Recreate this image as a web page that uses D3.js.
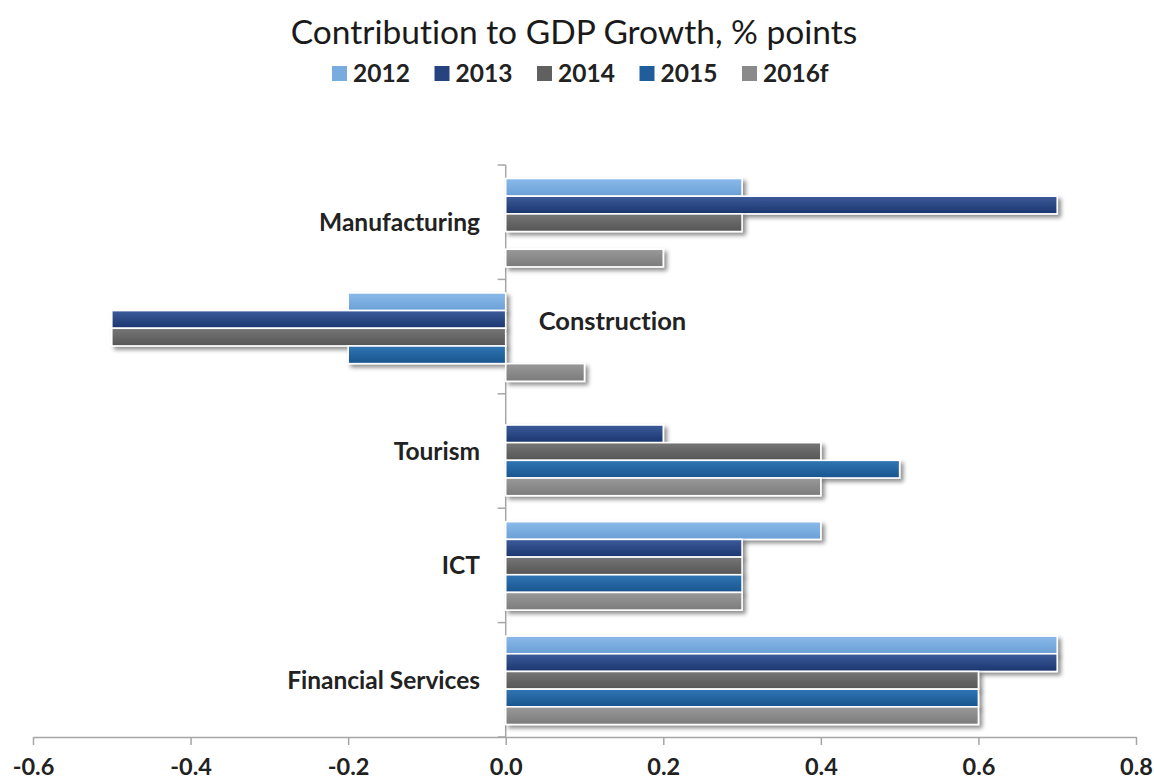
<!DOCTYPE html>
<html>
<head>
<meta charset="utf-8">
<script src="https://cdn.jsdelivr.net/npm/d3@7"></script>
<style>
  html, body { margin: 0; padding: 0; background: #ffffff; }
  svg { display: block; }
  text { font-variant-ligatures: none; font-feature-settings: "liga" 0, "clig" 0; }
</style>
</head>
<body>
<svg id="chart" width="1154" height="782"></svg>
<script>
// ---- data ----
const categories = ["Manufacturing", "Construction", "Tourism", "ICT", "Financial Services"];
const seriesNames = ["2012", "2013", "2014", "2015", "2016f"];
const values2012  = [0.3, -0.2, 0.0, 0.4, 0.7];
const values2013  = [0.7, -0.5, 0.2, 0.3, 0.7];
const values2014  = [0.3, -0.5, 0.4, 0.3, 0.6];
const values2015  = [0.0, -0.2, 0.5, 0.3, 0.6];
const values2016f = [0.2,  0.1, 0.4, 0.3, 0.6];
const xTicks = [-0.6, -0.4, -0.2, 0.0, 0.2, 0.4, 0.6, 0.8];
const titleText = "Contribution to GDP Growth, % points";

const seriesValues = [values2012, values2013, values2014, values2015, values2016f];
const colors = {
  "2012":  { solid: "#78abde", top: "#8abaea", bot: "#6aa0d6" },
  "2013":  { solid: "#26427f", top: "#3c5c9a", bot: "#1b356f" },
  "2014":  { solid: "#606060", top: "#767676", bot: "#555555" },
  "2015":  { solid: "#1f5e9b", top: "#3075b3", bot: "#19558f" },
  "2016f": { solid: "#8a8a8a", top: "#999999", bot: "#7b7b7b" }
};

const svg = d3.select("#chart");
const defs = svg.append("defs");

// gradients
seriesNames.forEach((s, i) => {
  const g = defs.append("linearGradient").attr("id", "grad" + i)
    .attr("x1", 0).attr("y1", 0).attr("x2", 0).attr("y2", 1);
  g.append("stop").attr("offset", "0%").attr("stop-color", colors[s].top);
  g.append("stop").attr("offset", "100%").attr("stop-color", colors[s].bot);
});
// shadow
const f = defs.append("filter").attr("id", "shadow")
  .attr("x", "-10%").attr("y", "-50%").attr("width", "130%").attr("height", "250%");
f.append("feDropShadow").attr("dx", 3).attr("dy", 3).attr("stdDeviation", 2.2)
  .attr("flood-color", "#000").attr("flood-opacity", 0.45);

const FONT = "Lato, 'Open Sans', sans-serif";

// scales
const x = d3.scaleLinear().domain([-0.6, 0.8]).range([33, 1136]);
const y = d3.scaleBand().domain(categories).range([165, 737]).padding(0);
const yInner = d3.scaleBand().domain(seriesNames).range([13.5, y.bandwidth() - 12.5]).padding(0);

// title
svg.append("text").attr("x", 574).attr("y", 44)
  .attr("text-anchor", "middle")
  .attr("font-family", FONT).attr("font-size", 33.5).attr("fill", "#1a1a1a")
  .text(titleText);

// legend
const legendX0 = 332, legendStep = 102.5;
const lg = svg.append("g");
seriesNames.forEach((s, i) => {
  const gx = legendX0 + i * legendStep;
  lg.append("rect").attr("x", gx).attr("y", 66).attr("width", 15).attr("height", 15)
    .attr("fill", colors[s].solid);
  lg.append("text").attr("x", gx + 21).attr("y", 82)
    .attr("font-family", FONT).attr("font-weight", "bold").attr("font-size", 24.5)
    .attr("fill", "#222").text(s);
});

// x axis
const xAxis = d3.axisBottom(x).tickValues(xTicks).tickSize(8).tickSizeOuter(0)
  .tickFormat(d3.format(".1f"));
const gx = svg.append("g").attr("transform", "translate(0,737)").call(xAxis);
gx.select(".domain").attr("stroke", "#a6a6a6").attr("stroke-width", 1.5);
gx.selectAll(".tick line").attr("stroke", "#a6a6a6").attr("stroke-width", 1.5);
gx.selectAll(".tick text").attr("font-family", FONT).attr("font-weight", "bold")
  .attr("font-size", 23.5).attr("fill", "#222").attr("dy", 0).attr("y", 38)
  .text(d => d3.format(".1f")(d).replace("−", "-"));

// vertical axis at 0 with boundary ticks
const boundaries = categories.map(c => y(c)).concat([y.range()[1]]);
const gy = svg.append("g");
gy.append("line").attr("x1", x(0)).attr("x2", x(0)).attr("y1", y.range()[0]).attr("y2", y.range()[1])
  .attr("stroke", "#a6a6a6").attr("stroke-width", 1.5);
gy.selectAll("line.tick").data(boundaries).join("line").attr("class", "tick")
  .attr("x1", x(0) - 8).attr("x2", x(0)).attr("y1", d => d).attr("y2", d => d)
  .attr("stroke", "#a6a6a6").attr("stroke-width", 1.5);

// bars
const barData = [];
categories.forEach((c, ci) => {
  seriesNames.forEach((s, si) => {
    barData.push({ cat: c, series: s, si: si, value: seriesValues[si][ci] });
  });
});
const bars = svg.append("g");
bars.selectAll("rect").data(barData.filter(d => d.value !== 0)).join("rect")
  .attr("x", d => x(Math.min(0, d.value)))
  .attr("width", d => Math.abs(x(d.value) - x(0)))
  .attr("y", d => y(d.cat) + yInner(d.series))
  .attr("height", yInner.bandwidth())
  .attr("fill", d => "url(#grad" + d.si + ")")
  .attr("stroke", "#ffffff").attr("stroke-width", 1.6)
  .attr("filter", "url(#shadow)");

// category labels
categories.forEach((c, ci) => {
  const minVal = d3.min(seriesValues, v => v[ci]);
  const cy = y(c) + y.bandwidth() / 2;
  const t = svg.append("text")
    .attr("font-family", FONT).attr("font-weight", "bold").attr("font-size", 24.5)
    .attr("fill", "#222").text(c);
  if (minVal < 0) {
    t.attr("x", x(0) + 33).attr("y", cy - 16 + 9).attr("text-anchor", "start")
      .attr("font-size", 25.5);
  } else {
    t.attr("x", 480).attr("y", cy + 9).attr("text-anchor", "end");
  }
});
</script>
</body>
</html>
